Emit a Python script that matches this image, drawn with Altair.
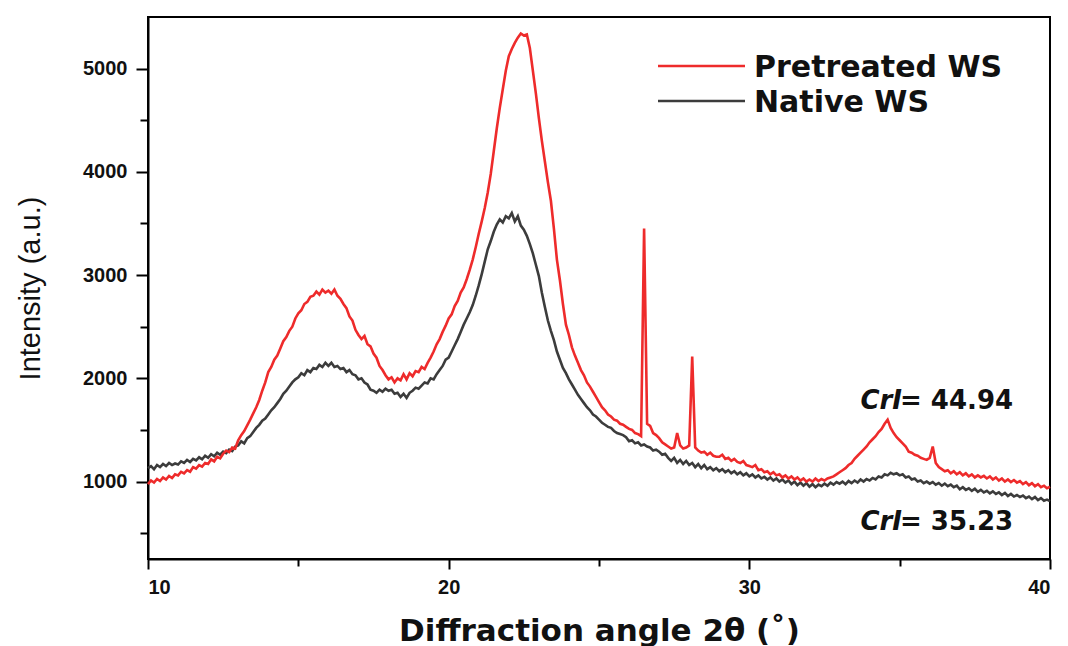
import altair as alt
import pandas as pd

# 2θ grid of the scans: 0.1° steps from 10° to 40°
two_theta = [round(10 + 0.1 * i, 1) for i in range(301)]

# Pretreated wheat straw, intensity per 0.1° (one row per degree)
pretreated = [
    975, 1010, 990, 1025, 1005, 1040, 1020, 1055, 1035, 1070,      # 10
    1060, 1095, 1080, 1110, 1095, 1140, 1125, 1160, 1145, 1180,    # 11
    1170, 1215, 1195, 1240, 1225, 1270, 1300, 1285, 1330, 1320,    # 12
    1400, 1450, 1490, 1545, 1600, 1660, 1720, 1790, 1880, 1960,    # 13
    2060, 2110, 2180, 2220, 2290, 2360, 2400, 2460, 2500, 2580,    # 14
    2630, 2660, 2720, 2740, 2790, 2800, 2840, 2810, 2860, 2830,    # 15
    2850, 2820, 2860, 2800, 2770, 2720, 2680, 2600, 2560, 2470,    # 16
    2420, 2380, 2410, 2330, 2310, 2240, 2200, 2120, 2080, 2030,    # 17
    1990, 2010, 1960, 2000, 1980, 2040, 1990, 2050, 2020, 2070,    # 18
    2060, 2110, 2090, 2150, 2200, 2260, 2330, 2380, 2450, 2510,    # 19
    2580, 2620, 2700, 2750, 2830, 2880, 2960, 3050, 3150, 3270,    # 20
    3400, 3520, 3650, 3800, 3980, 4200, 4420, 4620, 4800, 4980,    # 21
    5120, 5190, 5250, 5300, 5340, 5320, 5330, 5200, 4980, 4760,    # 22
    4520, 4300, 4100, 3900, 3720, 3450, 3150, 2950, 2720, 2520,    # 23
    2420, 2300, 2220, 2150, 2080, 2030, 1960, 1920, 1870, 1820,    # 24
    1770, 1720, 1690, 1650, 1630, 1600, 1590, 1560, 1550, 1530,    # 25
    1510, 1500, 1470, 1460, 1440, 3450, 1560, 1540, 1470, 1450,    # 26
    1420, 1380, 1360, 1340, 1320, 1330, 1470, 1350, 1320, 1330,    # 27
    1350, 2210, 1330, 1300, 1280, 1290, 1260, 1280, 1250, 1240,    # 28
    1240, 1260, 1220, 1230, 1200, 1220, 1190, 1180, 1200, 1160,    # 29
    1150, 1140, 1160, 1110, 1120, 1090, 1100, 1070, 1090, 1060,    # 30
    1070, 1040, 1060, 1030, 1050, 1020, 1040, 1010, 1030, 1000,    # 31
    1020, 1000, 1030, 1005, 1025, 1010, 1030, 1040, 1050, 1070,    # 32
    1090, 1110, 1130, 1160, 1180, 1220, 1250, 1280, 1310, 1340,    # 33
    1380, 1410, 1440, 1480, 1510, 1560, 1600, 1520, 1470, 1430,    # 34
    1400, 1370, 1340, 1290, 1280, 1260, 1250, 1230, 1220, 1210,    # 35
    1230, 1340, 1180, 1140, 1120, 1100, 1110, 1080, 1100, 1070,    # 36
    1090, 1060, 1080, 1050, 1070, 1040, 1060, 1040, 1055, 1030,    # 37
    1050, 1020, 1040, 1010, 1030, 1000, 1020, 995, 1015, 990,      # 38
    1005, 975, 995, 965, 985, 955, 975, 945, 960, 935,             # 39
    950,                                                           # 40
]

# Native wheat straw, intensity per 0.1°
native = [
    1130, 1150, 1120, 1160, 1140, 1170, 1150, 1180, 1160, 1175,    # 10
    1165, 1195, 1180, 1210, 1190, 1220, 1205, 1235, 1215, 1250,    # 11
    1230, 1265, 1245, 1280, 1260, 1290, 1275, 1310, 1295, 1340,    # 12
    1350, 1390, 1370, 1420, 1440, 1480, 1520, 1550, 1590, 1610,    # 13
    1650, 1690, 1720, 1760, 1800, 1850, 1880, 1920, 1960, 1990,    # 14
    2010, 2050, 2030, 2080, 2060, 2100, 2090, 2130, 2110, 2150,    # 15
    2120, 2150, 2110, 2120, 2090, 2100, 2060, 2080, 2040, 2030,    # 16
    1990, 2000, 1960, 1940, 1890, 1880, 1860, 1890, 1870, 1900,    # 17
    1880, 1890, 1850, 1860, 1820, 1850, 1810, 1860, 1880, 1910,    # 18
    1900, 1930, 1960, 1950, 2000, 1990, 2040, 2080, 2120, 2180,    # 19
    2200, 2260, 2320, 2380, 2450, 2520, 2580, 2640, 2710, 2800,    # 20
    2900, 3010, 3130, 3250, 3330, 3420, 3490, 3540, 3510, 3570,    # 21
    3550, 3600, 3520, 3570, 3480, 3440, 3380, 3300, 3210, 3100,    # 22
    2990, 2830, 2690, 2560, 2460, 2370, 2260, 2180, 2100, 2050,    # 23
    1990, 1940, 1890, 1840, 1800, 1760, 1720, 1690, 1650, 1630,    # 24
    1600, 1570, 1550, 1530, 1520, 1490, 1470, 1460, 1450, 1430,    # 25
    1390, 1400, 1370, 1380, 1350, 1360, 1340, 1330, 1300, 1310,    # 26
    1290, 1260, 1270, 1230, 1200, 1230, 1180, 1210, 1170, 1200,    # 27
    1160, 1180, 1140, 1170, 1130, 1160, 1120, 1140, 1110, 1130,    # 28
    1100, 1120, 1090, 1110, 1080, 1100, 1070, 1090, 1060, 1080,    # 29
    1050, 1070, 1040, 1060, 1030, 1045, 1020, 1040, 1010, 1030,    # 30
    1000, 1020, 990, 1010, 975, 1000, 965, 990, 960, 985,          # 31
    950, 975, 945, 970, 955, 980, 960, 990, 970, 995,              # 32
    980, 1000, 975, 1005, 985, 1010, 990, 1020, 1000, 1025,        # 33
    1010, 1035, 1020, 1050, 1040, 1070, 1060, 1085, 1070, 1080,    # 34
    1060, 1070, 1040, 1050, 1020, 1030, 1000, 1010, 985, 1000,     # 35
    980, 995, 970, 985, 960, 980, 955, 970, 945, 960,              # 36
    925, 945, 920, 935, 910, 930, 900, 920, 895, 910,              # 37
    885, 905, 880, 895, 870, 890, 860, 880, 855, 870,              # 38
    850, 865, 840, 855, 830, 850, 820, 840, 815, 825,              # 39
    810,                                                           # 40
]

series_names = ["Pretreated WS", "Native WS"]
series_colors = ["#EE2B2B", "#3C3C3C"]
crystallinity = ["44.94", "35.23"]

x_ticks = [10, 20, 30, 40]
x_minor = [15, 25, 35]
y_ticks = [1000, 2000, 3000, 4000, 5000]
y_minor = [500, 1500, 2500, 3500, 4500]

df_pre = pd.DataFrame({"angle": two_theta, "intensity": pretreated})
df_nat = pd.DataFrame({"angle": two_theta, "intensity": native})

W, H = 902, 542
BOLD = "DejaVu Sans"
TICKFONT = "Liberation Sans"
x_scale = alt.Scale(domain=[10, 40], nice=False, zero=False)
y_scale = alt.Scale(domain=[250, 5500], nice=False, zero=False)

major_x = alt.Axis(
    values=x_ticks, format="d", orient="bottom", grid=False, domainColor="black",
    domainWidth=2, tickColor="black", tickWidth=2, tickSize=10,
    labelFont=TICKFONT, labelFontWeight="bold", labelFontSize=20, labelColor="#111",
    labelPadding=8, title="Diffraction angle 2θ (˚)", titleFont=BOLD,
    titleFontWeight="bold", titleFontSize=31, titleColor="#111",
    titleX=W / 2, titleY=72, titleAnchor="middle", titleBaseline="middle",
)
major_y = alt.Axis(
    values=y_ticks, format="d", orient="left", grid=False, domainColor="black",
    domainWidth=2, tickColor="black", tickWidth=2, tickSize=12,
    labelFont=TICKFONT, labelFontWeight="bold", labelFontSize=20, labelColor="#111",
    labelPadding=9, title="Intensity (a.u.)",
    titleFont="'Liberation Sans Narrow', 'Liberation Sans', sans-serif",
    titleFontWeight="normal", titleFontSize=29, titleColor="#111",
    titleX=-118, titleY=H / 2, titleAngle=-90, titleAnchor="middle",
    titleAlign="center", titleBaseline="middle",
)
minor_x = alt.Axis(values=x_minor, orient="bottom", grid=False, labels=False,
                   domain=False, tickColor="black", tickWidth=2, tickSize=7,
                   title=None)
minor_y = alt.Axis(values=y_minor, orient="left", grid=False, labels=False,
                   domain=False, tickColor="black", tickWidth=2, tickSize=8,
                   title=None)

native_line = alt.Chart(df_nat).mark_line(
    color=series_colors[1], strokeWidth=2.6, strokeJoin="miter"
).encode(
    x=alt.X("angle:Q", scale=x_scale, axis=major_x),
    y=alt.Y("intensity:Q", scale=y_scale, axis=major_y),
)
pre_line = alt.Chart(df_pre).mark_line(
    color=series_colors[0], strokeWidth=2.6, strokeJoin="miter"
).encode(
    x=alt.X("angle:Q", scale=x_scale, axis=minor_x),
    y=alt.Y("intensity:Q", scale=y_scale, axis=minor_y),
)

# Legend drawn as line samples plus labels
legend_layers = []
for i, (name, col) in enumerate(zip(series_names, series_colors)):
    yy = 49 + 35 * i
    legend_layers.append(
        alt.Chart(df_pre.head(1)).mark_rule(color=col, strokeWidth=2.6).encode(
            x=alt.value(510), x2=alt.value(597), y=alt.value(yy)
        )
    )
    legend_layers.append(
        alt.Chart(df_pre.head(1)).mark_text(
            text=name, font=BOLD, fontWeight="bold", fontSize=30, color="#111",
            align="left", baseline="middle",
        ).encode(x=alt.value(606), y=alt.value(yy + 2))
    )

# Crystallinity index annotations
crl_layers = []
for yy, val in zip([384, 505], crystallinity):
    crl_layers.append(
        alt.Chart(df_pre.head(1)).mark_text(
            text="CrI", font=BOLD, fontWeight="bold", fontStyle="italic",
            fontSize=26, color="#111", align="right", baseline="middle",
        ).encode(x=alt.value(754), y=alt.value(yy))
    )
    crl_layers.append(
        alt.Chart(df_pre.head(1)).mark_text(
            text="= " + val, font=BOLD, fontWeight="bold", fontSize=26,
            color="#111", align="left", baseline="middle",
        ).encode(x=alt.value(752), y=alt.value(yy))
    )

chart = alt.layer(native_line, pre_line, *legend_layers, *crl_layers).resolve_axis(
    x="independent", y="independent"
).properties(
    width=W, height=H,
    autosize=alt.AutoSizeParams(type="none"),
    padding={"left": 148, "top": 17, "right": 18, "bottom": 87},
    background="white",
).configure_view(stroke="black", strokeWidth=2)

chart.save("out.html", embed_options={"renderer": "svg", "actions": False})
